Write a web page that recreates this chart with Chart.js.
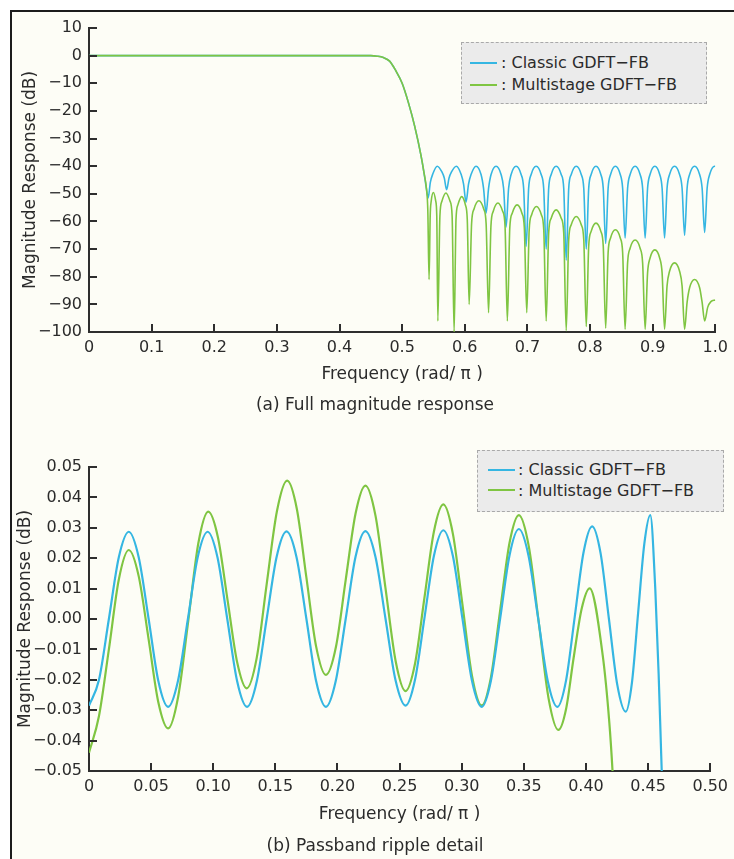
<!DOCTYPE html>
<html>
<head>
<meta charset="utf-8">
<script src="https://cdn.jsdelivr.net/npm/chart.js@4.4.0/dist/chart.umd.min.js"></script>
<style>
  html, body { margin: 0; padding: 0; background: #fff; }
  #page { position: relative; width: 734px; height: 859px; overflow: hidden; background: #fff;
          font-family: 'DejaVu Sans', sans-serif; color: #2b2b2b; }
  #frame { position: absolute; left: 10px; top: 10px; width: 740px; height: 870px;
           border-left: 2px solid #1c1c1c; border-top: 2px solid #1c1c1c; background: #fdfdf6; }
  canvas { position: absolute; left: 0; }
  #figA { top: 0; }
  #figB { top: 430px; }
  .legend { position: absolute; border: 1px dashed #a9a9a9; background: #ebebeb; font-size: 16px; }
  .legend .swatch { position: absolute; width: 27px; height: 2px; }
  .legend .label { position: absolute; white-space: nowrap; line-height: 19px; }
  .caption { position: absolute; left: 10px; width: 730px; text-align: center; font-size: 17px; line-height: 20px; }
</style>
</head>
<body>
<div id="page">
  <div id="frame"></div>
  <canvas id="figA" width="734" height="420"></canvas>
  <canvas id="figB" width="734" height="429"></canvas>

  <div class="legend" style="left:461px; top:42px; width:244px; height:60px;">
    <div class="swatch" id="swA1" style="left:8px; top:19px;"></div>
    <div class="label" style="left:39px; top:10px;">: Classic GDFT−FB</div>
    <div class="swatch" id="swA2" style="left:8px; top:41px;"></div>
    <div class="label" style="left:39px; top:32px;">: Multistage GDFT−FB</div>
  </div>
  <div class="caption" style="top:394px;">(a) Full magnitude response</div>

  <div class="legend" style="left:477px; top:450px; width:245px; height:60px;">
    <div class="swatch" id="swB1" style="left:10px; top:18px;"></div>
    <div class="label" style="left:40px; top:9px;">: Classic GDFT−FB</div>
    <div class="swatch" id="swB2" style="left:10px; top:38px;"></div>
    <div class="label" style="left:40px; top:30px;">: Multistage GDFT−FB</div>
  </div>
  <div class="caption" style="top:835px;">(b) Passband ripple detail</div>
</div>

<script>
// colours
const classicColor = '#35b6e2';
const multiColor = '#7fc542';
const axisColor = '#2e2e2e';
const textColor = '#2b2b2b';

// (a) full magnitude response, dB
const classicFreqA = [0, 0.2, 0.44, 0.45, 0.46, 0.47, 0.48, 0.49, 0.50, 0.51, 0.52, 0.53, 0.535, 0.539,
  0.5415, 0.5451, 0.5488, 0.556, 0.5635, 0.5673, 0.571,
  0.5749, 0.5788, 0.5865, 0.5943, 0.5981, 0.602,
  0.606, 0.610, 0.618, 0.626, 0.630, 0.634,
  0.638, 0.642, 0.650, 0.658, 0.662, 0.666,
  0.670, 0.674, 0.682, 0.690, 0.694, 0.698,
  0.702, 0.706, 0.714, 0.722, 0.726, 0.730,
  0.734, 0.738, 0.746, 0.754, 0.758, 0.762,
  0.766, 0.770, 0.778, 0.786, 0.790, 0.794,
  0.7979, 0.8018, 0.8095, 0.8173, 0.8211, 0.825,
  0.8289, 0.8328, 0.8405, 0.8483, 0.8521, 0.856,
  0.860, 0.864, 0.872, 0.880, 0.884, 0.888,
  0.8919, 0.8958, 0.9035, 0.9113, 0.9151, 0.919,
  0.923, 0.927, 0.935, 0.943, 0.947, 0.951,
  0.955, 0.959, 0.967, 0.975, 0.979, 0.983,
  0.987, 0.991, 0.999, 1.0];
const classicMagA = [0, 0, 0, 0, -0.2, -0.7, -2, -5.5, -10, -17, -25.5, -36, -42.5, -48.5,
  -51.5, -45.8, -42.9, -40, -42.1, -44.3, -48.5,
  -44.3, -42.1, -40, -43, -46.5, -53,
  -46.5, -43, -40, -43, -48, -57,
  -48, -43, -40, -43, -48, -62,
  -48, -43, -40, -43, -48, -69,
  -48, -43, -40, -43, -48, -70,
  -48, -43, -40, -43, -48, -74,
  -48, -43, -40, -43, -48, -70,
  -48, -43, -40, -43, -48, -68,
  -48, -43, -40, -43, -48, -66,
  -48, -43, -40, -43, -48, -66,
  -48, -43, -40, -43, -48, -66,
  -48, -43, -40, -43, -48, -65,
  -48, -43, -40, -43, -48, -64,
  -48, -43, -40, -40];

const multiFreqA = [0, 0.2, 0.44, 0.45, 0.46, 0.47, 0.48, 0.49, 0.50, 0.51, 0.52, 0.53, 0.535, 0.539, 0.541, 0.543,
  0.5448, 0.5465, 0.550, 0.5535, 0.5553, 0.557,
  0.5603, 0.5635, 0.570, 0.5765, 0.5798, 0.583,
  0.586, 0.589, 0.595, 0.601, 0.604, 0.607,
  0.6109, 0.6148, 0.6225, 0.6303, 0.6341, 0.638,
  0.6418, 0.6455, 0.653, 0.6605, 0.6643, 0.668,
  0.6719, 0.6758, 0.6835, 0.6913, 0.6951, 0.699,
  0.7029, 0.7068, 0.7145, 0.7223, 0.7261, 0.730,
  0.734, 0.738, 0.746, 0.754, 0.758, 0.762,
  0.766, 0.770, 0.778, 0.786, 0.790, 0.794,
  0.7979, 0.8018, 0.8095, 0.8173, 0.8211, 0.825,
  0.8289, 0.8328, 0.8405, 0.8483, 0.8521, 0.856,
  0.860, 0.864, 0.872, 0.880, 0.884, 0.888,
  0.8919, 0.8958, 0.9035, 0.9113, 0.9151, 0.919,
  0.923, 0.927, 0.935, 0.943, 0.947, 0.951,
  0.955, 0.959, 0.967, 0.975, 0.979, 0.983,
  0.988, 0.993, 1.0];
const multiMagA = [0, 0, 0, 0, -0.2, -0.7, -2, -5.5, -10, -17, -25.5, -36, -42.5, -48.5, -56, -81,
  -58, -52.5, -49.5, -52.5, -58, -96,
  -58, -52.7, -49.7, -52.7, -58, -100,
  -59.3, -54, -51, -54, -59.3, -90,
  -60.8, -55.5, -52.5, -55.5, -60.8, -93,
  -61.6, -56.3, -53.3, -56.3, -61.6, -96,
  -62.3, -57, -54, -57, -62.3, -93,
  -62.9, -57.6, -54.6, -57.6, -62.9, -96,
  -64.1, -58.8, -55.8, -58.8, -64.1, -99.5,
  -66.5, -61.2, -58.2, -61.2, -66.5, -98,
  -68.9, -63.6, -60.6, -63.6, -68.9, -98.6,
  -71.3, -66, -63, -66, -71.3, -99,
  -75, -69.7, -66.7, -69.7, -75, -99,
  -78.6, -73.3, -70.3, -73.3, -78.6, -99,
  -83.3, -78, -75, -78, -83.3, -99,
  -89.3, -84, -81, -84, -89.3, -96,
  -91, -89, -88.4];

// (b) passband ripple detail, dB
const classicFreqB = [0, 0.008, 0.016, 0.024, 0.032, 0.040, 0.048, 0.0558, 0.0637, 0.0716, 0.0796,
  0.0875, 0.0955, 0.1034, 0.1113, 0.1192, 0.1272, 0.1351, 0.143, 0.151, 0.159, 0.167, 0.175,
  0.1828, 0.1907, 0.1986, 0.2066, 0.2145, 0.2225, 0.2306, 0.2387, 0.2467, 0.2548, 0.2624, 0.27,
  0.2776, 0.2852, 0.2929, 0.3006, 0.3083, 0.3161, 0.3235, 0.331, 0.3385, 0.346, 0.3537, 0.3615,
  0.3692, 0.377, 0.384, 0.391, 0.398, 0.405, 0.4118, 0.4185, 0.4252, 0.432, 0.437, 0.442, 0.447,
  0.4518, 0.4558, 0.4585, 0.4606, 0.4622];
const classicMagB = [-0.0285, -0.0201, 0, 0.0203, 0.0287, 0.0203, 0, -0.0204, -0.0289, -0.0204, 0,
  0.0203, 0.0287, 0.0203, 0, -0.0204, -0.0289, -0.0204, 0, 0.0204, 0.0288, 0.0204, 0,
  -0.0204, -0.0289, -0.0204, 0, 0.0204, 0.0289, 0.0204, 0, -0.0201, -0.0285, -0.0200, 0.0003,
  0.0207, 0.0292, 0.0207, 0.0001, -0.0204, -0.0289, -0.0203, 0.0003, 0.0210, 0.0296, 0.0210, 0.0003,
  -0.0203, -0.0289, -0.0202, 0.0008, 0.0218, 0.0305, 0.0216, 0, -0.0216, -0.0305, -0.0210, 0.002, 0.0248,
  0.0342, 0.010, -0.018, -0.045, -0.065];

const multiFreqB = [0, 0.008, 0.016, 0.024, 0.032, 0.040, 0.048, 0.0558, 0.0637, 0.0718, 0.080,
  0.088, 0.096, 0.1038, 0.1115, 0.1193, 0.127, 0.135, 0.143, 0.1513, 0.1595, 0.1673, 0.175,
  0.1828, 0.1907, 0.1987, 0.2066, 0.2146, 0.2225, 0.2306, 0.2387, 0.2468, 0.2548, 0.2624, 0.27,
  0.2776, 0.2852, 0.2929, 0.3006, 0.3083, 0.3161, 0.3235, 0.331, 0.3385, 0.346, 0.354, 0.362,
  0.3699, 0.3778, 0.384, 0.390, 0.3965, 0.403, 0.4135, 0.4188, 0.4214, 0.4232];
const multiMagB = [-0.0440, -0.0320, -0.0100, 0.0130, 0.0227, 0.0141, -0.0067, -0.0274, -0.0360, -0.0255, -0.0003,
  0.0249, 0.0353, 0.0268, 0.0063, -0.0143, -0.0228, -0.0128, 0.0114, 0.0355, 0.0455, 0.0362, 0.0136,
  -0.0090, -0.0184, -0.0093, 0.0128, 0.0348, 0.0439, 0.0340, 0.0100, -0.0138, -0.0237, -0.0147, 0.0070,
  0.0287, 0.0377, 0.0280, 0.0047, -0.0187, -0.0284, -0.0192, 0.0030, 0.0251, 0.0342, 0.0239, -0.0010,
  -0.0261, -0.0365, -0.0296, -0.0130, 0.0033, 0.0101, -0.0120, -0.0340, -0.0500, -0.0650];

// tick values and labels
const xTicksA = [0, 0.1, 0.2, 0.3, 0.4, 0.5, 0.6, 0.7, 0.8, 0.9, 1.0];
const xTickLabelsA = ['0', '0.1', '0.2', '0.3', '0.4', '0.5', '0.6', '0.7', '0.8', '0.9', '1.0'];
const yTicksA = [-100, -90, -80, -70, -60, -50, -40, -30, -20, -10, 0, 10];
const yTickLabelsA = ['−100', '−90', '−80', '−70', '−60', '−50', '−40', '−30', '−20', '−10', '0', '10'];
const xTicksB = [0, 0.05, 0.10, 0.15, 0.20, 0.25, 0.30, 0.35, 0.40, 0.45, 0.50];
const xTickLabelsB = ['0', '0.05', '0.10', '0.15', '0.20', '0.25', '0.30', '0.35', '0.40', '0.45', '0.50'];
const yTicksB = [-0.05, -0.04, -0.03, -0.02, -0.01, 0, 0.01, 0.02, 0.03, 0.04, 0.05];
const yTickLabelsB = ['−0.05', '−0.04', '−0.03', '−0.02', '−0.01', '0.00', '0.01', '0.02', '0.03', '0.04', '0.05'];

// legend swatches share the dataset colours
document.getElementById('swA1').style.background = classicColor;
document.getElementById('swA2').style.background = multiColor;
document.getElementById('swB1').style.background = classicColor;
document.getElementById('swB2').style.background = multiColor;

// small inward tick marks, like the original plot
const inwardTicks = {
    id: 'inwardTicks',
    afterDatasetsDraw(chart) {
        const { ctx, chartArea, scales } = chart;
        ctx.save();
        ctx.strokeStyle = axisColor;
        ctx.lineWidth = 2;
        scales.x.ticks.forEach(t => {
            const px = Math.round(scales.x.getPixelForValue(t.value));
            ctx.beginPath();
            ctx.moveTo(px, chartArea.bottom);
            ctx.lineTo(px, chartArea.bottom - 8);
            ctx.stroke();
        });
        scales.y.ticks.forEach(t => {
            const py = Math.round(scales.y.getPixelForValue(t.value));
            ctx.beginPath();
            ctx.moveTo(chartArea.left, py);
            ctx.lineTo(chartArea.left + 8, py);
            ctx.stroke();
        });
        ctx.restore();
    }
};

function toPoints(xs, ys) {
    return xs.map((x, i) => ({ x: x, y: ys[i] }));
}

function axisOptions(cfg) {
    const tickFont = { family: "'DejaVu Sans', sans-serif", size: 16 };
    const titleFont = { family: "'DejaVu Sans', sans-serif", size: 17 };
    return {
        x: {
            type: 'linear',
            min: cfg.xMin,
            max: cfg.xMax,
            afterBuildTicks: s => { s.ticks = cfg.xTicks.map(v => ({ value: v })); },
            afterFit: s => { s.height = cfg.xHeight; },
            ticks: {
                autoSkip: false, maxRotation: 0, padding: 6,
                color: textColor, font: tickFont,
                callback: (v, i) => cfg.xLabels[i]
            },
            grid: { display: true, drawOnChartArea: false, drawTicks: false },
            border: { display: true, color: axisColor, width: 2 },
            title: {
                display: true, text: 'Frequency (rad/ π )', color: textColor, font: titleFont,
                padding: { top: 0, bottom: cfg.xTitlePad }
            }
        },
        y: {
            type: 'linear',
            min: cfg.yMin,
            max: cfg.yMax,
            afterBuildTicks: s => { s.ticks = cfg.yTicks.map(v => ({ value: v })); },
            afterFit: s => { s.width = 89; },
            ticks: {
                autoSkip: false, padding: 7,
                color: textColor, font: tickFont,
                callback: (v, i) => cfg.yLabels[i]
            },
            grid: { display: true, drawOnChartArea: false, drawTicks: false },
            border: { display: true, color: axisColor, width: 2 },
            title: {
                display: true, text: 'Magnitude Response (dB)', color: textColor, font: titleFont,
                padding: { top: cfg.yTitlePad, bottom: 0 }
            }
        }
    };
}

function makeChart(id, datasets, cfg) {
    return new Chart(document.getElementById(id), {
        type: 'line',
        data: { datasets: datasets },
        options: {
            responsive: false,
            animation: false,
            layout: { padding: { top: cfg.padTop, right: 15, left: 0, bottom: 0 } },
            elements: { point: { radius: 0 } },
            scales: axisOptions(cfg),
            plugins: {
                legend: { display: false },
                tooltip: { enabled: false }
            }
        },
        plugins: [inwardTicks]
    });
}

// (a) full magnitude response
makeChart('figA', [
    {
        label: 'Multistage GDFT-FB',
        data: toPoints(multiFreqA, multiMagA),
        borderColor: multiColor, borderWidth: 1.6,
        cubicInterpolationMode: 'monotone', fill: false, order: 0
    },
    {
        label: 'Classic GDFT-FB',
        data: toPoints(classicFreqA, classicMagA),
        borderColor: classicColor, borderWidth: 1.6,
        cubicInterpolationMode: 'monotone', fill: false, order: 1
    }
], {
    xMin: 0, xMax: 1, yMin: -100, yMax: 10,
    xTicks: xTicksA, xLabels: xTickLabelsA, yTicks: yTicksA, yLabels: yTickLabelsA,
    xHeight: 88, xTitlePad: 35, yTitlePad: 20, padTop: 28
});

// (b) passband ripple detail
makeChart('figB', [
    {
        label: 'Classic GDFT-FB',
        data: toPoints(classicFreqB, classicMagB),
        borderColor: classicColor, borderWidth: 2.2,
        cubicInterpolationMode: 'monotone', fill: false, order: 0
    },
    {
        label: 'Multistage GDFT-FB',
        data: toPoints(multiFreqB, multiMagB),
        borderColor: multiColor, borderWidth: 2.2,
        cubicInterpolationMode: 'monotone', fill: false, order: 1
    }
], {
    xMin: 0, xMax: 0.5, yMin: -0.05, yMax: 0.05,
    xTicks: xTicksB, xLabels: xTickLabelsB, yTicks: yTicksB, yLabels: yTickLabelsB,
    xHeight: 88, xTitlePad: 34, yTitlePad: 15, padTop: 37
});
</script>
</body>
</html>
